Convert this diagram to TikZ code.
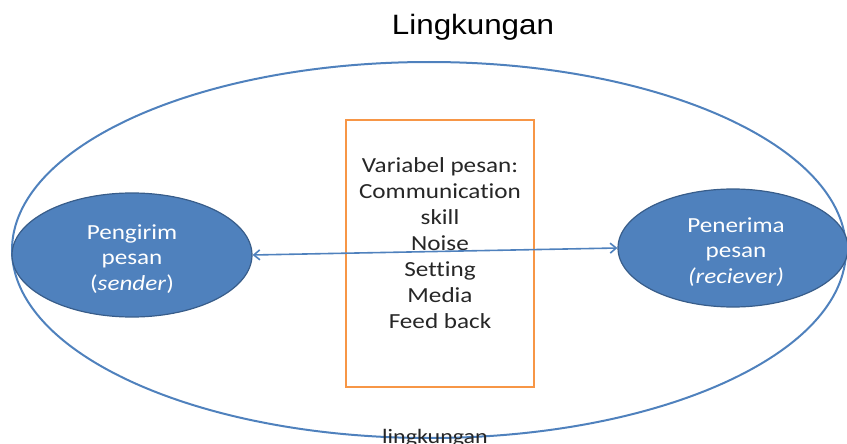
\documentclass[tikz,border=0pt]{standalone}
\usepackage{fontspec}
\setmainfont{Carlito}[FakeStretch=1.17,Ligatures=NoCommon]
\newfontfamily\arialfont{Liberation Sans}[FakeStretch=1.12]
\usetikzlibrary{shapes.geometric,arrows.meta}
\definecolor{officeblue}{HTML}{4F81BD}
\definecolor{darkblue}{HTML}{385D8A}
\definecolor{officeorange}{HTML}{F79646}
\definecolor{textgray}{HTML}{262626}
\tikzset{
  party/.style={ellipse, draw=darkblue, line width=1.2pt, fill=officeblue, inner sep=0pt},
  partytext/.style={text=white, align=center, inner sep=0pt, font=\fontsize{21.5}{25.5}\selectfont},
  envellipse/.style={ellipse, draw=officeblue, line width=2pt, inner sep=0pt},
  varbox/.style={draw=officeorange, line width=2.2pt, inner sep=0pt},
  vartext/.style={align=center, text=textgray, font=\fontsize{21.5}{26}\selectfont},
  flow/.style={draw=officeblue, line width=1.6pt, {Straight Barb[length=6pt,width=10pt]}-{Straight Barb[length=6pt,width=10pt]}}
}
\begin{document}
\begin{tikzpicture}[x=1pt,y=-1pt]
\useasboundingbox (0,0) rectangle (847,444);
\node[envellipse, minimum width=834pt, minimum height=376pt] (env) at (429,250) {};
\node[varbox, minimum width=188pt, minimum height=267pt] (box) at (440,253.5) {};
\node[vartext] (vars) at (440,243) {Variabel pesan:\\Communication\\skill\\Noise\\Setting\\Media\\Feed back};
\node[party, minimum width=240pt, minimum height=124pt] (sender) at (132,255) {};
\node[partytext] (sendertext) at (132,259) {Pengirim\\pesan\\(\textit{sender})};
\node[party, minimum width=230pt, minimum height=118pt] (receiver) at (733,248) {};
\node[partytext] (receivertext) at (736,252) {Penerima\\pesan\\\textit{(reciever)}};
\draw[flow] (sender.east) -- (receiver.west);
\node[font=\arialfont\fontsize{28}{30}\selectfont, anchor=base] (title) at (473,35) {Lingkungan};
\node[font=\fontsize{20.5}{24}\selectfont, text=textgray, anchor=base] (envlabel) at (435,443) {lingkungan};
\end{tikzpicture}
\end{document}
